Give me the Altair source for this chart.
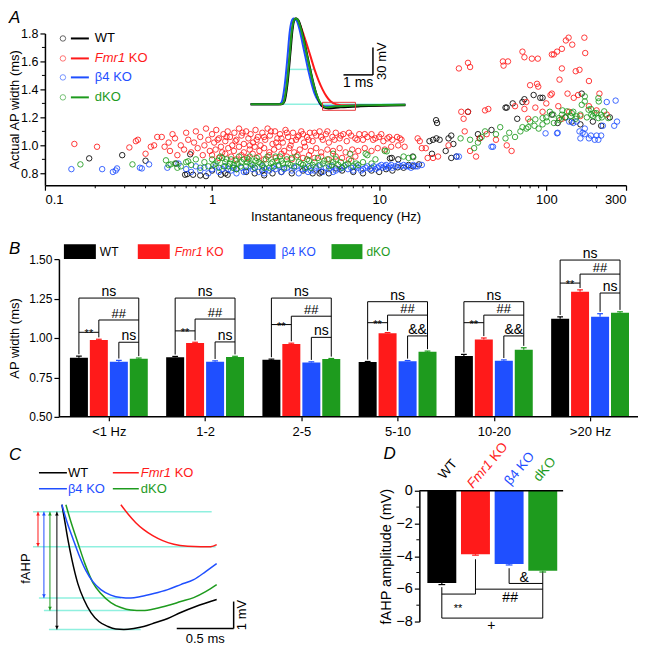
import json
import altair as alt
import pandas as pd

FONT = "Liberation Sans"
groups = ["WT", "Fmr1 KO", "β4 KO", "dKO"]
colors = ["#000000", "#ff1a1a", "#1f4fff", "#1e9b1e"]
CYAN = "#8ff0df"

# ---------------- Panel A: scatter (frequency Hz, AP width ms) ----------------
wt_pts = [(0.184, 0.907), (0.29, 0.93), (0.40, 0.89), (0.61, 0.87), (0.74, 0.936), (0.69, 0.79), (0.71, 0.795),
          (0.77, 0.79), (0.85, 0.785), (0.92, 0.78), (1.13, 0.79), (1.24, 0.79),
          (1.0, 0.82), (1.2, 0.80), (1.4, 0.83), (1.6, 0.81), (1.8, 0.80), (2.05, 0.786), (2.0, 0.82), (2.3, 0.80),
          (2.6, 0.81), (3.0, 0.80), (3.5, 0.82), (4.0, 0.80), (4.4, 0.80), (4.5, 0.81), (5.0, 0.80), (5.5, 0.835),
          (6.0, 0.82), (7.0, 0.81), (8.0, 0.80), (9.0, 0.82), (10.0, 0.81), (11.0, 0.83), (12.0, 0.82), (12.9, 0.843),
          (14.0, 0.84), (15.0, 0.86), (16.0, 0.85),
          (11.6, 0.907), (11.9, 0.91), (13.0, 0.90), (15.9, 0.92), (17.3, 0.864), (20.7, 0.94), (25.0, 0.96),
          (27.0, 0.91), (29.0, 0.92),
          (21.9, 1.18), (22.2, 1.16), (20.0, 1.03), (21.0, 1.04), (22.0, 1.05), (23.0, 1.04), (26.0, 1.05),
          (27.0, 1.07), (27.8, 1.01), (34.0, 1.24), (39.0, 1.08), (40.0, 1.05), (47.0, 1.11), (57.0, 1.27),
          (58.0, 1.27), (63.0, 1.30), (67.0, 1.19), (72.0, 1.31), (74.0, 1.33), (84.0, 1.36), (92.0, 1.34),
          (95.0, 1.34), (108.0, 1.22), (117.0, 1.16), (130.0, 1.20), (142.0, 1.17), (160.0, 1.15), (163.0, 1.37),
          (190.0, 1.17), (213.0, 1.14), (240.0, 1.20)]

fm_pts = [(0.15, 1.01), (0.205, 0.99), (0.32, 0.985), (0.35, 1.03), (0.36, 1.04), (0.40, 0.94), (0.43, 0.99),
          (0.45, 1.0), (0.47, 1.06), (0.5, 1.06), (0.52, 0.99), (0.55, 1.02), (0.56, 0.96), (0.58, 1.08), (0.6, 1.05),
          (0.62, 0.93), (0.65, 1.0), (0.68, 0.97), (0.7, 1.09), (0.72, 1.04), (0.75, 0.95), (0.78, 1.02), (0.8, 1.1),
          (0.82, 0.98), (0.85, 1.06), (0.88, 0.93), (0.9, 1.0), (0.92, 1.12), (0.95, 1.04), (0.97, 0.96),
          (1.0, 1.08), (1.03, 1.02), (1.06, 1.11), (1.1, 1.05), (1.13, 0.99), (1.17, 1.08), (1.2, 1.03), (1.24, 1.1),
          (1.28, 1.06), (1.32, 1.0), (1.36, 1.09), (1.4, 1.04), (1.45, 1.12), (1.5, 1.07), (1.55, 1.01), (1.6, 1.1),
          (1.65, 1.05), (1.7, 1.08), (1.76, 1.02), (1.82, 1.11), (1.88, 1.06), (1.95, 1.0), (2.0, 1.09), (2.08, 1.04),
          (2.15, 1.12), (2.22, 1.07), (2.3, 1.01), (2.38, 1.1), (2.46, 1.05), (2.55, 1.08), (2.65, 1.02), (2.75, 1.11),
          (2.85, 1.06), (2.95, 1.0), (3.05, 1.09), (3.18, 1.04), (3.3, 1.07), (3.42, 1.1), (3.55, 1.02), (3.7, 1.06),
          (3.85, 1.09), (4.0, 1.03), (4.2, 1.07), (4.4, 1.1), (4.6, 1.04), (4.8, 1.08), (5.0, 1.02), (5.25, 1.06),
          (5.5, 1.09), (5.8, 1.05), (6.1, 1.08), (6.4, 1.03), (6.8, 1.07), (7.2, 1.05), (7.6, 1.08), (8.0, 1.04),
          (8.5, 1.06), (9.0, 1.08), (9.5, 1.05), (10.0, 1.06), (10.6, 1.03), (11.2, 1.05), (12.0, 1.04), (12.8, 1.06),
          (1.08, 1.04), (1.22, 1.06), (1.38, 1.03), (1.52, 1.09), (1.68, 1.0), (1.85, 1.04), (2.05, 1.06),
          (2.25, 1.1), (2.42, 1.02), (2.6, 1.05), (2.8, 1.09), (3.0, 1.03), (3.25, 1.06), (3.5, 1.08), (3.78, 1.04),
          (4.1, 1.09), (4.5, 1.06), (4.9, 1.1), (5.4, 1.04), (5.9, 1.07), (6.6, 1.09), (7.4, 1.04), (8.2, 1.08),
          (9.2, 1.04), (10.3, 1.08), (11.5, 1.06),
          (1.05, 0.97), (1.15, 0.95), (1.25, 0.98), (1.35, 0.96), (1.45, 0.99), (1.55, 0.95), (1.68, 0.97),
          (1.8, 0.99), (1.92, 0.96), (2.05, 0.98), (2.2, 0.95), (2.35, 0.97), (2.5, 0.99), (2.7, 0.96), (2.9, 0.98),
          (3.1, 0.95), (3.35, 0.97), (3.6, 0.99), (3.9, 0.96), (4.2, 0.98), (4.5, 0.95), (4.9, 0.97), (5.3, 0.96),
          (5.8, 0.98), (6.3, 0.95), (6.9, 0.97), (7.5, 0.96), (8.2, 0.98), (9.0, 0.96), (9.8, 0.98), (10.8, 0.97),
          (11.8, 0.99), (13.0, 1.0), (14.2, 0.99),
          (1.0, 0.93), (1.1, 0.91), (1.2, 0.94), (1.3, 0.92), (1.4, 0.90), (1.5, 0.93), (1.62, 0.91), (1.75, 0.94),
          (1.9, 0.92), (2.05, 0.90), (2.2, 0.93), (2.4, 0.91), (2.6, 0.94), (2.8, 0.92), (3.0, 0.90), (3.25, 0.93),
          (3.5, 0.91), (3.8, 0.93), (4.1, 0.91), (4.5, 0.92), (5.0, 0.90), (5.5, 0.92), (6.0, 0.91), (6.6, 0.90),
          (7.2, 0.92),
          (13.3, 1.05), (13.6, 1.04), (17.0, 1.05), (17.5, 1.03), (18.0, 0.98), (19.0, 0.98), (19.5, 0.91),
          (21.0, 0.91), (22.5, 0.92), (31.0, 1.24), (32.0, 1.19), (34.0, 1.24), (30.0, 1.55), (34.0, 1.59),
          (35.0, 1.56), (43.0, 1.25), (45.0, 1.26), (55.0, 1.60), (55.5, 1.57), (59.0, 1.60), (32.5, 1.10),
          (40.0, 1.05), (38.0, 0.92), (44.0, 1.08), (50.0, 1.04), (58.0, 1.0), (62.0, 0.96), (72.0, 1.67),
          (74.0, 1.63), (82.0, 1.62), (89.0, 1.62), (108.0, 1.65), (111.0, 1.65), (116.0, 1.67), (124.0, 1.69),
          (131.0, 1.75), (136.0, 1.77), (143.0, 1.72), (169.0, 1.77), (171.0, 1.66), (124.0, 1.55), (150.0, 1.53),
          (158.0, 1.54), (120.0, 1.47), (180.0, 1.46), (80.0, 1.43), (88.0, 1.44), (89.5, 1.42), (108.0, 1.37),
          (106.0, 1.36), (134.0, 1.37), (146.0, 1.34), (155.0, 1.36), (208.0, 1.37), (76.0, 1.31), (74.0, 1.26),
          (86.0, 1.27), (95.0, 1.24), (78.0, 1.19), (137.0, 1.24), (124.0, 1.19), (160.0, 1.21), (200.0, 1.25),
          (180.0, 1.28), (230.0, 1.22), (35.0, 0.96), (26.0, 1.0), (65.0, 1.28), (100.0, 1.30), (118.0, 1.28)]

b4_pts = [(0.144, 0.83), (0.22, 0.83), (0.255, 0.81), (0.265, 0.82), (0.27, 0.835), (0.37, 0.84), (0.38, 0.835),
          (0.42, 0.864), (0.54, 0.84), (0.63, 0.87),
          (0.7, 0.83), (0.75, 0.81), (0.8, 0.85), (0.85, 0.82), (0.9, 0.84), (0.95, 0.80), (1.0, 0.83), (1.05, 0.85),
          (1.1, 0.81), (1.2, 0.85), (1.25, 0.83), (1.3, 0.82), (1.4, 0.80), (1.5, 0.84), (1.6, 0.82), (1.7, 0.85),
          (1.75, 0.83), (1.9, 0.81), (2.0, 0.85), (2.1, 0.83), (2.2, 0.82), (2.4, 0.83), (2.5, 0.85), (2.6, 0.81),
          (2.8, 0.84), (3.0, 0.82), (3.2, 0.85), (3.3, 0.80), (3.6, 0.83), (3.8, 0.85), (3.9, 0.82), (4.2, 0.84),
          (4.6, 0.81), (5.0, 0.83), (5.2, 0.85), (5.5, 0.82), (6.0, 0.84), (6.5, 0.83), (7.0, 0.82), (7.5, 0.84),
          (8.0, 0.83), (8.5, 0.85), (9.0, 0.84), (9.5, 0.83), (10.0, 0.85), (10.5, 0.84), (11.0, 0.86), (11.5, 0.85),
          (12.0, 0.84), (13.0, 0.86), (13.5, 0.85), (14.0, 0.86), (15.0, 0.85), (16.0, 0.86), (17.0, 0.85),
          (18.0, 0.86),
          (1.15, 0.83), (1.35, 0.84), (1.55, 0.81), (1.8, 0.84), (2.05, 0.80), (2.3, 0.84), (2.7, 0.83), (3.1, 0.84),
          (3.45, 0.83), (3.75, 0.81), (4.1, 0.82), (4.4, 0.85), (4.8, 0.84), (5.3, 0.81), (5.8, 0.83), (6.2, 0.85),
          (6.8, 0.84), (7.3, 0.85), (7.8, 0.82), (8.3, 0.84), (8.8, 0.83), (9.3, 0.85), (9.8, 0.84), (10.3, 0.86),
          (10.8, 0.85), (11.3, 0.84), (11.8, 0.86), (12.5, 0.85), (14.5, 0.85), (15.5, 0.84), (16.5, 0.85),
          (29.0, 0.92), (30.0, 0.92), (47.0, 0.99), (48.0, 0.99), (99.0, 1.086), (116.0, 1.086), (117.0, 1.09),
          (137.0, 1.17), (145.0, 1.16), (152.0, 1.17), (158.0, 1.10), (165.0, 1.09), (170.0, 1.08), (185.0, 1.07),
          (200.0, 1.07), (213.0, 1.07), (230.0, 1.31), (260.0, 1.32), (255.0, 1.14), (265.0, 1.17), (218.0, 1.14),
          (170.0, 1.12), (160.0, 1.05), (180.0, 1.05), (195.0, 1.04), (205.0, 1.04)]

dk_pts = [(0.163, 0.864), (0.334, 0.864), (0.53, 0.893), (0.565, 0.864), (0.72, 0.886), (0.55, 0.86), (0.62, 0.84),
          (0.6, 0.87), (0.65, 0.85), (0.7, 0.88), (0.75, 0.86), (0.8, 0.90), (0.85, 0.84), (0.9, 0.88), (0.95, 0.85),
          (1.0, 0.90), (1.05, 0.87), (1.1, 0.84), (1.15, 0.91), (1.2, 0.88), (1.25, 0.85), (1.3, 0.90), (1.35, 0.86),
          (1.4, 0.83), (1.45, 0.92), (1.5, 0.88), (1.6, 0.85), (1.65, 0.90), (1.7, 0.87), (1.8, 0.84), (1.85, 0.91),
          (1.9, 0.88), (2.0, 0.86), (2.1, 0.90), (2.2, 0.84), (2.3, 0.88), (2.4, 0.92), (2.5, 0.86), (2.6, 0.89),
          (2.7, 0.84), (2.85, 0.87), (3.0, 0.91), (3.1, 0.85), (3.3, 0.88), (3.5, 0.86), (3.7, 0.90), (3.9, 0.84),
          (4.1, 0.88), (4.4, 0.86), (4.7, 0.89), (5.0, 0.85), (5.3, 0.88), (5.7, 0.86), (6.0, 0.84), (6.5, 0.87),
          (7.0, 0.85), (7.5, 0.86),
          (1.02, 0.86), (1.08, 0.89), (1.12, 0.92), (1.18, 0.85), (1.22, 0.90), (1.28, 0.87), (1.33, 0.84),
          (1.38, 0.89), (1.42, 0.87), (1.48, 0.85), (1.55, 0.90), (1.62, 0.88), (1.68, 0.92), (1.75, 0.86),
          (1.82, 0.89), (1.95, 0.87), (2.05, 0.84), (2.15, 0.92), (2.25, 0.87), (2.35, 0.85), (2.45, 0.89),
          (2.55, 0.92), (2.65, 0.87), (2.8, 0.90), (2.95, 0.86), (3.2, 0.92), (3.4, 0.87), (3.6, 0.84), (3.8, 0.89),
          (4.0, 0.86), (4.3, 0.91), (4.6, 0.87), (4.9, 0.90), (5.2, 0.86), (5.5, 0.90), (5.9, 0.88), (6.3, 0.86),
          (6.8, 0.89), (7.3, 0.87), (8.0, 0.88), (9.0, 0.87), (9.5, 0.90),
          (5.3, 0.94), (6.7, 0.94), (8.3, 0.94), (8.5, 0.93), (10.8, 0.96), (11.1, 0.957), (14.0, 0.92),
          (15.0, 0.91), (16.0, 0.915),
          (30.7, 1.05), (35.0, 1.04), (37.0, 0.98), (39.0, 1.02), (41.0, 1.06), (43.0, 1.10), (50.0, 1.08),
          (53.0, 1.13), (57.0, 1.05), (60.0, 1.09), (65.0, 1.06), (70.0, 1.10), (72.0, 1.13), (76.0, 1.12),
          (78.0, 1.13), (80.0, 1.17), (85.0, 1.14), (90.0, 1.12), (95.0, 1.15),
          (86.0, 1.186), (95.0, 1.195), (101.0, 1.171), (111.0, 1.16), (119.0, 1.195), (124.0, 1.219),
          (133.0, 1.243), (142.0, 1.231), (152.0, 1.207), (163.0, 1.29), (170.0, 1.314), (179.0, 1.255),
          (186.0, 1.219), (194.0, 1.231), (205.0, 1.195), (213.0, 1.219), (222.0, 1.243), (206.0, 1.314),
          (235.0, 1.195), (170.0, 1.35), (205.0, 1.338),
          (100.0, 1.20), (110.0, 1.22), (120.0, 1.18), (130.0, 1.20), (140.0, 1.21), (150.0, 1.19), (160.0, 1.22),
          (175.0, 1.20), (190.0, 1.21), (200.0, 1.23), (215.0, 1.20), (105.0, 1.24), (125.0, 1.25), (145.0, 1.24),
          (185.0, 1.26)]

# Inset action potentials (time ms, membrane potential mV)
ap_wt = [(0, -60), (1.051, -60), (1.153, -56.7), (1.254, -37.1), (1.356, -2.2), (1.424, 21.8), (1.492, 32.7),
         (1.559, 33.8), (1.627, 31.6), (1.729, 21.8), (1.831, 7.6), (1.932, -7.6), (2.034, -22.9), (2.136, -37.1),
         (2.237, -49.1), (2.339, -57.8), (2.475, -63.3), (2.644, -64.4), (3.051, -63.3), (3.729, -62.2),
         (5.254, -61.1)]
ap_fm = [(0, -60), (1.017, -60), (1.119, -57.8), (1.220, -40.4), (1.322, -7.6), (1.390, 17.5), (1.458, 30.5),
         (1.525, 33.8), (1.627, 30.5), (1.763, 19.6), (1.898, 6.5), (2.034, -7.6), (2.169, -21.8), (2.305, -33.8),
         (2.441, -43.6), (2.576, -51.3), (2.712, -56.7), (2.915, -60), (3.220, -61.1), (3.729, -61.1),
         (5.254, -60.5)]
ap_b4 = [(0, -60), (0.949, -60), (1.051, -57.8), (1.153, -40.4), (1.254, -7.6), (1.322, 17.5), (1.390, 30.5),
         (1.458, 33.8), (1.559, 31.6), (1.661, 21.8), (1.763, 6.5), (1.864, -8.7), (1.966, -24.0), (2.068, -37.1),
         (2.169, -48.0), (2.305, -56.7), (2.441, -62.2), (2.712, -62.2), (3.729, -61.1), (5.254, -60.5)]
ap_dk = [(0, -60), (1.017, -60), (1.119, -57.8), (1.220, -40.4), (1.322, -7.6), (1.390, 17.5), (1.458, 30.5),
         (1.525, 33.8), (1.593, 32.7), (1.695, 24.0), (1.797, 10.9), (1.898, -4.4), (2.0, -19.6), (2.102, -33.8),
         (2.203, -45.8), (2.305, -54.5), (2.441, -61.1), (2.576, -63.3), (2.881, -62.2), (3.729, -61.1),
         (5.254, -60.5)]

# ---------------- Panel B: AP width by frequency bin ----------------
bins = ["<1 Hz", "1-2", "2-5", "5-10", "10-20", ">20 Hz"]
b_mean = {"WT": [0.875, 0.878, 0.862, 0.847, 0.886, 1.122],
          "Fmr1 KO": [0.987, 0.968, 0.962, 1.030, 0.990, 1.293],
          "β4 KO": [0.850, 0.849, 0.845, 0.853, 0.856, 1.134],
          "dKO": [0.868, 0.880, 0.866, 0.912, 0.926, 1.160]}
b_sem = {"WT": [0.010, 0.005, 0.004, 0.004, 0.010, 0.012],
         "Fmr1 KO": [0.005, 0.005, 0.005, 0.004, 0.010, 0.012],
         "β4 KO": [0.008, 0.006, 0.004, 0.004, 0.005, 0.020],
         "dKO": [0.005, 0.004, 0.004, 0.005, 0.012, 0.006]}
sig_ns = [1.253, 1.253, 1.253, 1.230, 1.230, 1.494]
sig_hash = [1.114, 1.120, 1.138, 1.145, 1.145, 1.405]
sig_star = [1.036, 1.045, 1.085, 1.097, 1.097, 1.348]
sig_third = [0.973, 0.975, 1.004, 1.013, 1.013, 1.285]
sig_third_lab = ["ns", "ns", "ns", "&&", "&&", "ns"]

# ---------------- Panel C: fAHP traces (ms, mV relative to reference level) ----------------
c_wt = [(0.149, 0.259), (0.175, -0.370), (0.202, -1.037), (0.237, -1.778), (0.289, -2.667), (0.342, -3.259),
        (0.404, -3.741), (0.474, -4.074), (0.553, -4.259), (0.623, -4.352), (0.693, -4.370), (0.781, -4.333),
        (0.868, -4.259), (0.974, -4.111), (1.079, -3.963), (1.193, -3.741), (1.325, -3.519), (1.509, -3.259)]
c_b4 = [(0.149, 0.259), (0.193, -0.370), (0.246, -1.0), (0.298, -1.593), (0.360, -2.185), (0.421, -2.593),
        (0.491, -2.889), (0.579, -3.093), (0.667, -3.185), (0.754, -3.204), (0.842, -3.148), (0.956, -3.037),
        (1.079, -2.889), (1.193, -2.704), (1.307, -2.519), (1.412, -2.222), (1.509, -1.926)]
c_dk = [(0.184, 0.259), (0.228, -0.370), (0.289, -1.148), (0.351, -1.926), (0.421, -2.630), (0.491, -3.037),
        (0.579, -3.370), (0.667, -3.556), (0.754, -3.648), (0.860, -3.667), (0.974, -3.593), (1.079, -3.481),
        (1.193, -3.333), (1.307, -3.185), (1.412, -2.963), (1.509, -2.704)]
c_fm = [(0.667, 0.259), (0.728, -0.074), (0.798, -0.407), (0.868, -0.667), (0.947, -0.889), (1.035, -1.074),
        (1.132, -1.204), (1.254, -1.278), (1.368, -1.296), (1.456, -1.296), (1.509, -1.222)]
c_level = {"WT": -4.370, "Fmr1 KO": -1.296, "β4 KO": -3.204, "dKO": -3.667}

# ---------------- Panel D: fAHP amplitude ----------------
d_mean = [-5.65, -3.88, -4.48, -4.90]
d_sem = [0.09, 0.06, 0.06, 0.07]

cscale = alt.Scale(domain=groups, range=colors)


def ind(*layers, w, h):
    return alt.layer(*layers).resolve_scale(
        x="independent", y="independent", color="independent").properties(width=w, height=h)


def T(**kw):
    base = dict(font=FONT, fontSize=13, align="left", baseline="middle", color="black")
    base.update(kw)
    return base


def px_text(df, **kw):
    return alt.Chart(pd.DataFrame(df)).mark_text(**T(**kw)).encode(
        x=alt.X("x:Q", scale=None), y=alt.Y("y:Q", scale=None), text="label:N",
        color=alt.Color("c:N", scale=None))


# ======================= Panel A =======================
A_W, A_H = 582, 152
SAX = alt.Scale(type="log", domain=[0.1, 300], nice=False)
SAY = alt.Scale(domain=[0.715, 1.8], nice=False, zero=False)

sc_df = pd.DataFrame([{"g": g, "f": f, "w": w}
                      for g, pts in zip(groups, [wt_pts, fm_pts, b4_pts, dk_pts]) for f, w in pts])
scatter = alt.Chart(sc_df).mark_point(shape="circle", filled=False, size=30, strokeWidth=0.85, opacity=1).encode(
    x=alt.X("f:Q", scale=SAX, axis=alt.Axis(values=[0.1, 1, 10, 100, 300], format="~g",
                                             title="Instantaneous frequency (Hz)", tickSize=5, labelPadding=3,
                                             titlePadding=4)),
    y=alt.Y("w:Q", scale=SAY, axis=alt.Axis(values=[0.8, 1.0, 1.2, 1.4, 1.6, 1.8], format=".1f",
                                             title="Actual AP width (ms)", tickSize=5, labelPadding=2,
                                             labelFontSize=12.5, titleX=-23, titleAngle=270,
                                             titleBaseline="bottom", titleAlign="center")),
    color=alt.Color("g:N", scale=cscale, legend=None))

xminor = [0.2, 0.3, 0.4, 0.5, 0.6, 0.7, 0.8, 0.9, 2, 3, 4, 5, 6, 7, 8, 9, 20, 30, 40, 50, 60, 70, 80, 90, 200]
a_mx = alt.Chart(pd.DataFrame({"f": xminor})).mark_rule(color="black", strokeWidth=1).encode(
    x=alt.X("f:Q", scale=SAX, axis=None), y=alt.value(A_H), y2=alt.value(A_H + 3))
a_my = alt.Chart(pd.DataFrame({"w": [0.9, 1.1, 1.3, 1.5, 1.7]})).mark_rule(color="black", strokeWidth=1).encode(
    y=alt.Y("w:Q", scale=SAY, axis=None), x=alt.value(0), x2=alt.value(-3))

IX = alt.Scale(domain=[0, 5.254], range=[206, 361], nice=False, zero=False)
IY = alt.Scale(domain=[-60, 33.8], range=[71, -15], nice=False, zero=False)
inset_cyan = alt.Chart(pd.DataFrame({"t1": [0.068, 1.288], "t2": [5.254, 2.169], "v": [-60, -21.8]})).mark_rule(
    color=CYAN, strokeWidth=1.5).encode(x=alt.X("t1:Q", scale=IX, axis=None), x2="t2:Q",
                                          y=alt.Y("v:Q", scale=IY, axis=None))
ap_layers = []
for g, tr in [("Fmr1 KO", ap_fm), ("β4 KO", ap_b4), ("WT", ap_wt), ("dKO", ap_dk)]:
    d = pd.DataFrame([{"i": i, "t": t, "v": v} for i, (t, v) in enumerate(tr)])
    ap_layers.append(alt.Chart(d).mark_line(color=colors[groups.index(g)], strokeWidth=2,
                                            interpolate="monotone").encode(
        x=alt.X("t:Q", scale=IX, axis=None), y=alt.Y("v:Q", scale=IY, axis=None), order="i:Q"))
red_box = alt.Chart(pd.DataFrame({"t1": [2.441], "t2": [3.559], "v1": [-57.8], "v2": [-66.5]})).mark_rect(
    fillOpacity=0, stroke="#e8393a", strokeWidth=1).encode(
    x=alt.X("t1:Q", scale=IX, axis=None), x2="t2:Q", y=alt.Y("v1:Q", scale=IY, axis=None), y2="v2:Q")
a_bar = alt.Chart(pd.DataFrame({"t1": [4.153, 3.153], "t2": [4.153, 4.153], "v1": [-27.8, -27.8],
                                "v2": [2.2, -27.8]})).mark_rule(color="black", strokeWidth=1.5).encode(
    x=alt.X("t1:Q", scale=IX, axis=None), x2="t2:Q", y=alt.Y("v1:Q", scale=IY, axis=None), y2="v2:Q")
a_bar_t1 = alt.Chart(pd.DataFrame({"t": [3.653], "v": [-27.8], "label": ["1 ms"]})).mark_text(
    **T(align="center", baseline="top", dy=1, fontSize=14)).encode(
    x=alt.X("t:Q", scale=IX, axis=None), y=alt.Y("v:Q", scale=IY, axis=None), text="label:N")
a_bar_t2 = alt.Chart(pd.DataFrame({"t": [4.46], "v": [-12.8], "label": ["30 mV"]})).mark_text(
    **T(align="center", baseline="middle", angle=270)).encode(
    x=alt.X("t:Q", scale=IX, axis=None), y=alt.Y("v:Q", scale=IY, axis=None), text="label:N")

legA = pd.DataFrame({"g": groups, "y": [5, 25, 44, 64]})
a_leg_c = alt.Chart(legA).mark_point(shape="circle", filled=False, size=30, strokeWidth=0.85).encode(
    x=alt.value(18), y=alt.Y("y:Q", scale=None), color=alt.Color("g:N", scale=cscale, legend=None))
a_leg_l = alt.Chart(legA).mark_rule(strokeWidth=2).encode(
    x=alt.value(26), x2=alt.value(44), y=alt.Y("y:Q", scale=None),
    color=alt.Color("g:N", scale=cscale, legend=None))
a_leg_t = px_text({"x": [50, 84, 50, 50], "y": [5, 25, 44, 64], "label": ["WT", "KO", "β4 KO", "dKO"],
                   "c": [colors[0], colors[1], colors[2], colors[3]]})
a_leg_ti = px_text({"x": [50], "y": [25], "label": ["Fmr1"], "c": [colors[1]]}, fontStyle="italic")
a_lab = px_text({"x": [-36], "y": [-15.5], "label": ["A"], "c": ["black"]}, fontSize=17, fontStyle="italic")

panelA = ind(scatter, a_mx, a_my, inset_cyan, *ap_layers, red_box, a_bar, a_bar_t1, a_bar_t2,
             a_leg_c, a_leg_l, a_leg_t, a_leg_ti, a_lab, w=A_W, h=A_H)

# ======================= Panel B =======================
B_W, B_H = 594, 158
SBX = alt.Scale(domain=[-0.664, 5.498], nice=False, zero=False)
SBY = alt.Scale(domain=[0.5, 1.5], nice=False, zero=False)
b_off = [-0.311, -0.104, 0.104, 0.311]
HALF, CAP = 0.0935, 0.03

brows = []
for gi in range(len(bins)):
    for k, g in enumerate(groups):
        m, s = b_mean[g][gi], b_sem[g][gi]
        xc = gi + b_off[k]
        brows.append(dict(g=g, xc=xc, x1=xc - HALF, x2=xc + HALF, m=m, base=0.5, top=m + s,
                          cl=xc - CAP, cr=xc + CAP))
bdf = pd.DataFrame(brows)
label_expr = json.dumps(bins, ensure_ascii=False) + "[round(datum.value)]"
b_bars = alt.Chart(bdf).mark_rect().encode(
    x=alt.X("x1:Q", scale=SBX, axis=alt.Axis(values=list(range(6)), labelExpr=label_expr, domain=False,
                                              tickSize=4, labelPadding=5, title=None)),
    x2="x2:Q",
    y=alt.Y("m:Q", scale=SBY, axis=alt.Axis(values=[0.5, 0.75, 1.0, 1.25, 1.5], format=".2f",
                                             title="AP width (ms)", offset=-14, tickSize=5, labelPadding=2,
                                             labelFontSize=12, titleX=-37, titleAngle=270,
                                             titleBaseline="bottom", titleAlign="center")),
    y2="base:Q", color=alt.Color("g:N", scale=cscale, legend=None))
b_base = alt.Chart(pd.DataFrame({"a": [-0.507], "b": [5.498], "y": [0.5]})).mark_rule(
    color="black", strokeWidth=1.5).encode(x=alt.X("a:Q", scale=SBX, axis=None), x2="b:Q",
                                          y=alt.Y("y:Q", scale=SBY, axis=None))
b_err = alt.Chart(bdf).mark_rule(strokeWidth=1.2).encode(
    x=alt.X("xc:Q", scale=SBX, axis=None), y=alt.Y("m:Q", scale=SBY, axis=None), y2="top:Q",
    color=alt.Color("g:N", scale=cscale, legend=None))
b_cap = alt.Chart(bdf).mark_rule(strokeWidth=1.2).encode(
    x=alt.X("cl:Q", scale=SBX, axis=None), x2="cr:Q", y=alt.Y("top:Q", scale=SBY, axis=None),
    color=alt.Color("g:N", scale=cscale, legend=None))

segs, t_ns, t_hash, t_star, t_third = [], [], [], [], []
for gi in range(len(bins)):
    c = [gi + o for o in b_off]
    top = [b_mean[g][gi] + b_sem[g][gi] + 0.012 for g in groups]
    L1, L2, L3, L4 = sig_ns[gi], sig_hash[gi], sig_star[gi], sig_third[gi]
    segs += [(c[0], c[0], top[0], L1), (c[3], c[3], top[3], L1), (c[0], c[3], L1, L1),
             (c[1], c[1], top[1], L2), (c[1], c[3], L2, L2), (c[0], c[1], L3, L3),
             (c[2], c[2], top[2], L4), (c[2], c[3], L4, L4)]
    t_ns.append(((c[0] + c[3]) / 2, L1, "ns"))
    t_hash.append(((c[1] + c[3]) / 2, L2, "##"))
    t_star.append(((c[0] + c[1]) / 2, L3, "**"))
    t_third.append(((c[2] + c[3]) / 2, L4, sig_third_lab[gi]))
seg_df = pd.DataFrame(segs, columns=["a", "b", "y1", "y2"])
b_br = alt.Chart(seg_df).mark_rule(color="black", strokeWidth=1).encode(
    x=alt.X("a:Q", scale=SBX, axis=None), x2="b:Q", y=alt.Y("y1:Q", scale=SBY, axis=None), y2="y2:Q")


def b_txt(rows, size, dy):
    return alt.Chart(pd.DataFrame(rows, columns=["x", "y", "label"])).mark_text(
        **T(align="center", baseline="alphabetic", fontSize=size, dy=dy)).encode(
        x=alt.X("x:Q", scale=SBX, axis=None), y=alt.Y("y:Q", scale=SBY, axis=None), text="label:N")


b_t1 = b_txt(t_ns, 14, -2)
b_t2 = b_txt(t_hash, 13, -2)
b_t3 = b_txt(t_star, 11, 5)
b_t4 = b_txt(t_third, 14, -2)

b_leg_r = alt.Chart(pd.DataFrame({"x1": [19, 93, 199, 287], "x2": [51, 125, 231, 318], "y1": [-15] * 4,
                                  "y2": [0] * 4, "c": colors})).mark_rect().encode(
    x=alt.X("x1:Q", scale=None), x2="x2:Q", y=alt.Y("y1:Q", scale=None), y2="y2:Q",
    color=alt.Color("c:N", scale=None))
b_leg_t = px_text({"x": [55, 161.5, 237, 322], "y": [-7.5] * 4, "label": ["WT", "KO", "β4 KO", "dKO"],
                   "c": colors}, fontSize=12)
b_leg_ti = px_text({"x": [130], "y": [-7.5], "label": ["Fmr1"], "c": [colors[1]]}, fontSize=12,
                   fontStyle="italic")
b_lab = px_text({"x": [-36], "y": [-10], "label": ["B"], "c": ["black"]}, fontSize=17, fontStyle="italic")

panelB = ind(b_bars, b_base, b_err, b_cap, b_br, b_t1, b_t2, b_t3, b_t4, b_leg_r, b_leg_t, b_leg_ti, b_lab,
             w=B_W, h=B_H)

# ======================= Panels C and D (one row) =======================
CD_W, CD_H = 519, 131
SCX = alt.Scale(domain=[0, 1.7544], range=[0, 200], nice=False, zero=False)
SCY = alt.Scale(domain=[-4.074, 0.778], range=[131, 0], nice=False, zero=False)

cyan_c = pd.DataFrame({"t1": [-0.105, -0.105, -0.053, -0.009, 0.035],
                       "t2": [1.465, 1.5, 0.667, 0.781, 0.842],
                       "v": [0, c_level["Fmr1 KO"], c_level["β4 KO"], c_level["dKO"], c_level["WT"]]})
c_cyan = alt.Chart(cyan_c).mark_rule(color=CYAN, strokeWidth=1.5).encode(
    x=alt.X("t1:Q", scale=SCX, axis=None), x2="t2:Q", y=alt.Y("v:Q", scale=SCY, axis=None))
c_traces = []
for g, tr in [("WT", c_wt), ("dKO", c_dk), ("β4 KO", c_b4), ("Fmr1 KO", c_fm)]:
    d = pd.DataFrame([{"i": i, "t": t, "v": v} for i, (t, v) in enumerate(tr)])
    c_traces.append(alt.Chart(d).mark_line(color=colors[groups.index(g)], strokeWidth=1.5,
                                           interpolate="monotone").encode(
        x=alt.X("t:Q", scale=SCX, axis=None), y=alt.Y("v:Q", scale=SCY, axis=None), order="i:Q"))
arrow_x = {"Fmr1 KO": -0.061, "β4 KO": -0.009, "dKO": 0.044, "WT": 0.105}
arr = pd.DataFrame([{"g": g, "t": arrow_x[g], "v1": 0.0, "v2": c_level[g],
                     "vt": -0.08, "vb": c_level[g] + 0.08} for g in groups])
c_arr = alt.Chart(arr).mark_rule(strokeWidth=1).encode(
    x=alt.X("t:Q", scale=SCX, axis=None), y=alt.Y("v1:Q", scale=SCY, axis=None), y2="v2:Q",
    color=alt.Color("g:N", scale=cscale, legend=None))
c_arr_up = alt.Chart(arr).mark_point(shape="triangle-up", filled=True, size=14, opacity=1).encode(
    x=alt.X("t:Q", scale=SCX, axis=None), y=alt.Y("vt:Q", scale=SCY, axis=None),
    color=alt.Color("g:N", scale=cscale, legend=None))
c_arr_dn = alt.Chart(arr).mark_point(shape="triangle-down", filled=True, size=14, opacity=1).encode(
    x=alt.X("t:Q", scale=SCX, axis=None), y=alt.Y("vb:Q", scale=SCY, axis=None),
    color=alt.Color("g:N", scale=cscale, legend=None))
c_bar = alt.Chart(pd.DataFrame({"t1": [1.658, 1.158], "t2": [1.658, 1.658], "v1": [-3.333, -4.333],
                                "v2": [-4.333, -4.333]})).mark_rule(color="black", strokeWidth=1.5).encode(
    x=alt.X("t1:Q", scale=SCX, axis=None), x2="t2:Q", y=alt.Y("v1:Q", scale=SCY, axis=None), y2="v2:Q")
c_bt1 = alt.Chart(pd.DataFrame({"t": [1.408], "v": [-4.333], "label": ["0.5 ms"]})).mark_text(
    **T(align="center", baseline="middle", dy=11)).encode(
    x=alt.X("t:Q", scale=SCX, axis=None), y=alt.Y("v:Q", scale=SCY, axis=None), text="label:N")
c_bt2 = alt.Chart(pd.DataFrame({"t": [1.728], "v": [-3.833], "label": ["1 mV"]})).mark_text(
    **T(align="center", baseline="middle", angle=270)).encode(
    x=alt.X("t:Q", scale=SCX, axis=None), y=alt.Y("v:Q", scale=SCY, axis=None), text="label:N")
c_fahp = alt.Chart(pd.DataFrame({"t": [-0.167], "v": [-2.11], "label": ["fAHP"]})).mark_text(
    **T(align="center", baseline="middle", angle=270)).encode(
    x=alt.X("t:Q", scale=SCX, axis=None), y=alt.Y("v:Q", scale=SCY, axis=None), text="label:N")
legC = pd.DataFrame({"g": groups, "x1": [-6, 68, -6, 68], "x2": [22, 94, 22, 94], "y": [-18, -18, -2, -2]})
c_leg_l = alt.Chart(legC).mark_rule(strokeWidth=1.5).encode(
    x=alt.X("x1:Q", scale=None), x2="x2:Q", y=alt.Y("y:Q", scale=None),
    color=alt.Color("g:N", scale=cscale, legend=None))
c_leg_t = px_text({"x": [23, 96 + 33.9, 23, 96], "y": [-18, -18, -2, -2], "label": ["WT", "KO", "β4 KO", "dKO"],
                   "c": colors})
c_leg_ti = px_text({"x": [96], "y": [-18], "label": ["Fmr1"], "c": [colors[1]]}, fontStyle="italic")
c_lab = px_text({"x": [-36], "y": [-36], "label": ["C"], "c": ["black"]}, fontSize=17, fontStyle="italic")

# Panel D sits at x 375..519 of this row
SDX = alt.Scale(domain=[-0.668, 3.605], range=[375, 519], nice=False, zero=False)
SDY = alt.Scale(domain=[-8, 0], range=[131, 0], nice=False, zero=False)
ddf = pd.DataFrame([{"g": g, "k": k, "x1": k - 0.43, "x2": k + 0.43, "m": d_mean[k], "z": 0.0,
                     "lo": d_mean[k] - d_sem[k], "cl": k - 0.1, "cr": k + 0.1} for k, g in enumerate(groups)])
d_bars = alt.Chart(ddf).mark_rect().encode(
    x=alt.X("x1:Q", scale=SDX, axis=None),
    x2="x2:Q",
    y=alt.Y("m:Q", scale=SDY, axis=alt.Axis(values=[-8, -6, -4, -2, 0], format="d", tickSize=5, offset=-375,
                                             labelPadding=2, title="fAHP amplitude (mV)", titleX=-26,
                                             titleAngle=270, titleBaseline="bottom", titleAlign="center",
                                             labelFontSize=14.5, titleFontSize=14.5)),
    y2="z:Q", color=alt.Color("g:N", scale=cscale, legend=None))
d_zero = alt.Chart(pd.DataFrame({"a": [-0.668], "b": [3.605], "y": [0.0]})).mark_rule(
    color="black", strokeWidth=1.5).encode(x=alt.X("a:Q", scale=SDX, axis=None), x2="b:Q",
                                          y=alt.Y("y:Q", scale=SDY, axis=None))
d_err = alt.Chart(ddf).mark_rule(strokeWidth=1.2).encode(
    x=alt.X("k:Q", scale=SDX, axis=None), y=alt.Y("m:Q", scale=SDY, axis=None), y2="lo:Q",
    color=alt.Color("g:N", scale=cscale, legend=None))
d_cap = alt.Chart(ddf).mark_rule(strokeWidth=1.2).encode(
    x=alt.X("cl:Q", scale=SDX, axis=None), x2="cr:Q", y=alt.Y("lo:Q", scale=SDY, axis=None),
    color=alt.Color("g:N", scale=cscale, legend=None))
d_minor = alt.Chart(pd.DataFrame({"v": [-7, -5, -3, -1]})).mark_rule(color="black", strokeWidth=1).encode(
    y=alt.Y("v:Q", scale=SDY, axis=None), x=alt.value(375), x2=alt.value(372))
d_segs = pd.DataFrame([(2, 2, -4.74, -5.67), (3, 3, -4.99, -7.79), (2, 3, -5.67, -5.67),
                       (1, 1, -4.19, -6.32), (1, 3, -6.02, -6.02),
                       (0, 0, -5.90, -7.79), (0, 1, -6.32, -6.32), (0, 3, -7.79, -7.79)],
                      columns=["a", "b", "y1", "y2"])
d_br = alt.Chart(d_segs).mark_rule(color="black", strokeWidth=1).encode(
    x=alt.X("a:Q", scale=SDX, axis=None), x2="b:Q", y=alt.Y("y1:Q", scale=SDY, axis=None), y2="y2:Q")
d_sig = alt.Chart(pd.DataFrame({"x": [2.45, 2.03, 1.47], "y": [-5.35, -6.57, -8.3], "label": ["&", "##", "+"]})
                  ).mark_text(**T(align="center", baseline="middle", fontSize=14)).encode(
    x=alt.X("x:Q", scale=SDX, axis=None), y=alt.Y("y:Q", scale=SDY, axis=None), text="label:N")
d_sig2 = alt.Chart(pd.DataFrame({"x": [0.48], "y": [-7.25], "label": ["**"]})).mark_text(
    **T(align="center", baseline="middle", fontSize=11)).encode(
    x=alt.X("x:Q", scale=SDX, axis=None), y=alt.Y("y:Q", scale=SDY, axis=None), text="label:N")
d_names = pd.DataFrame({"x": [0.18, 1.36 - 0.222, 2.31, 3.06], "y": [1.3, 1.55 - 0.544, 1.35, 1.3],
                        "label": ["WT", "Fmr1", "β4 KO", "dKO"], "c": colors, "it": [0, 1, 0, 0]})
d_names_n = alt.Chart(pd.concat([d_names[d_names.it == 0],
                                 pd.DataFrame({"x": [1.36 + 0.337], "y": [1.55 + 0.824], "label": ["KO"],
                                               "c": [colors[1]], "it": [0]})])).mark_text(
    **T(align="center", baseline="middle", angle=310, fontSize=13.5)).encode(
    x=alt.X("x:Q", scale=SDX, axis=None), y=alt.Y("y:Q", scale=SDY, axis=None), text="label:N",
    color=alt.Color("c:N", scale=None))
d_names_i = alt.Chart(d_names[d_names.it == 1]).mark_text(
    **T(align="center", baseline="middle", angle=310, fontSize=13.5, fontStyle="italic")).encode(
    x=alt.X("x:Q", scale=SDX, axis=None), y=alt.Y("y:Q", scale=SDY, axis=None), text="label:N",
    color=alt.Color("c:N", scale=None))
d_lab = px_text({"x": [339], "y": [-37], "label": ["D"], "c": ["black"]}, fontSize=17, fontStyle="italic")

panelCD = ind(d_bars, d_zero, d_err, d_cap, d_minor, d_br, d_sig, d_sig2, d_names_n, d_names_i, d_lab,
              c_cyan, *c_traces, c_arr, c_arr_up, c_arr_dn, c_bar, c_bt1, c_bt2, c_fahp, c_leg_l, c_leg_t,
              c_leg_ti, c_lab, w=CD_W, h=CD_H)

chart = alt.vconcat(panelA, panelB, panelCD, spacing=74, bounds="flush").properties(
    padding={"left": 0, "top": 0, "right": 0, "bottom": 0}
).configure_view(stroke=None).configure_axis(
    labelFont=FONT, titleFont=FONT, labelFontSize=13, titleFontSize=13, titleFontWeight="normal",
    labelColor="black", titleColor="black", domainColor="black", tickColor="black", domainWidth=1.5,
    tickWidth=1.2, grid=False
).configure_text(font=FONT)

chart.save("out.html", embed_options={"renderer": "svg", "actions": False})
